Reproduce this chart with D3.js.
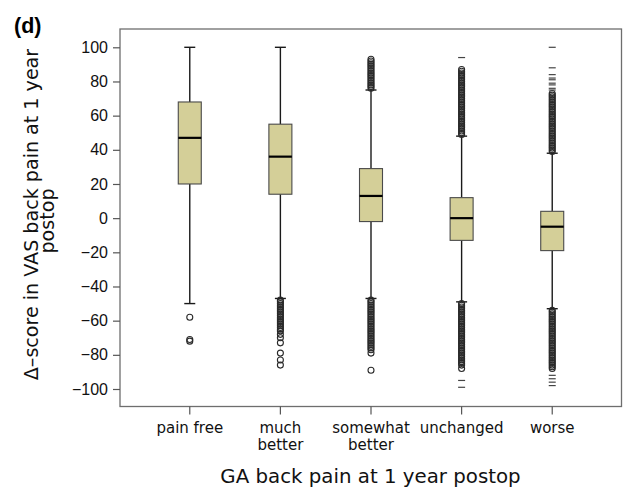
<!DOCTYPE html>
<html>
<head>
<meta charset="utf-8">
<script src="https://cdn.jsdelivr.net/npm/d3@7"></script>
<style>
  html, body { margin: 0; padding: 0; background: #fff; }
  svg { display: block; }
</style>
</head>
<body>
<div id="chart"></div>
<script>
// Box plot: change in VAS back pain by global assessment at 1 year

const categories = ["pain free", "much better", "somewhat better", "unchanged", "worse"];
const categoryLines = [["pain free"], ["much", "better"], ["somewhat", "better"], ["unchanged"], ["worse"]];
const q1Values = [20, 14, -2, -13, -19];
const medianValues = [47, 36, 13, 0, -5];
const q3Values = [68, 55, 29, 12, 4];
const whiskerLow = [-50, -47, -47, -49, -53];
const whiskerHigh = [100, 100, 75, 48, 38];
const yTicks = [-100, -80, -60, -40, -20, 0, 20, 40, 60, 80, 100];

// outliers (circles), one list per category
const outlierValues = [
  [-58, -71, -72],
  [-48, -49, -50, -51, -52, -53, -54, -55, -56, -57, -58, -59, -60, -61, -62, -63, -64, -65, -66,
   -68, -70, -73, -79, -83, -86],
  [76, 77, 78, 79, 80, 81, 82, 83, 84, 85, 86, 87, 88, 89, 90, 91, 92, 93,
   -48, -49, -50, -51, -52, -53, -54, -55, -56, -57, -58, -59, -60, -61, -62, -63, -64, -65, -66,
   -67, -68, -69, -70, -71, -72, -73, -74, -75, -76, -77, -79, -89],
  [49, 50, 51, 52, 53, 54, 55, 56, 57, 58, 59, 60, 61, 62, 63, 64, 65, 66, 67, 68, 69, 70,
   71, 72, 73, 74, 75, 76, 77, 78, 79, 80, 81, 82, 83, 84, 85, 86, 87,
   -50, -51, -52, -53, -54, -55, -56, -57, -58, -59, -60, -61, -62, -63, -64, -65, -66, -67, -68,
   -69, -70, -71, -72, -73, -74, -75, -76, -77, -78, -79, -80, -81, -82, -83, -84, -85, -86, -88],
  [39, 40, 41, 42, 43, 44, 45, 46, 47, 48, 49, 50, 51, 52, 53, 54, 55, 56, 57, 58, 59, 60,
   61, 62, 63, 64, 65, 66, 67, 68, 69, 70, 71, 72, 73,
   -54, -55, -56, -57, -58, -59, -60, -61, -62, -63, -64, -65, -66, -67, -68, -69, -70, -71, -72,
   -73, -74, -75, -76, -77, -78, -79, -80, -81, -82, -83, -84, -85, -86, -87, -88]
];

// extreme values (short dashes)
const extremeValues = [
  [],
  [],
  [],
  [94, -95, -99],
  [100, 88, 84, 82, 81, 79, 78, 76, 75, -92, -94, -96, -98]
];

const width = 623;
const height = 497;
const frame = { left: 120, right: 621.5, top: 29, bottom: 406.5 };
const boxWidth = 23;
const capWidth = 11;

const svg = d3.select("#chart").append("svg")
  .attr("width", width).attr("height", height);

const xScale = d3.scalePoint()
  .domain(categories)
  .range([frame.left, frame.right + 0.5])
  .padding(0.77);

const yScale = d3.scaleLinear()
  .domain([-100, 100])
  .range([389, 47.3]);

// Plot frame
svg.append("rect")
  .attr("x", frame.left).attr("y", frame.top)
  .attr("width", frame.right - frame.left)
  .attr("height", frame.bottom - frame.top)
  .attr("fill", "none")
  .attr("stroke", "#6e6e6e")
  .attr("stroke-width", 1.3);

// Y axis
const yAxis = d3.axisLeft(yScale)
  .tickValues(yTicks)
  .tickSize(7)
  .tickPadding(5);

const yAxisGroup = svg.append("g")
  .attr("transform", `translate(${frame.left},0)`)
  .call(yAxis);
yAxisGroup.select(".domain").remove();
yAxisGroup.selectAll(".tick line").attr("stroke", "#555").attr("stroke-width", 1.2);
yAxisGroup.selectAll(".tick text")
  .attr("fill", "#111")
  .style("font-family", "'Liberation Sans', Arial, sans-serif")
  .style("font-size", "16px");

// X axis ticks + wrapped labels
const xAxisGroup = svg.append("g")
  .attr("transform", `translate(0,${frame.bottom})`);

const xTick = xAxisGroup.selectAll(".xtick")
  .data(categories)
  .join("g")
  .attr("class", "xtick")
  .attr("transform", (cat) => `translate(${xScale(cat)},0)`);

xTick.append("line")
  .attr("y1", 0).attr("y2", 8)
  .attr("stroke", "#555").attr("stroke-width", 1.2);

xTick.append("text")
  .attr("text-anchor", "middle")
  .attr("fill", "#111")
  .style("font-family", "'DejaVu Sans', sans-serif")
  .style("font-size", "15px")
  .selectAll("tspan")
  .data((cat, i) => categoryLines[i])
  .join("tspan")
  .attr("x", 0)
  .attr("y", (line, i) => 26 + i * 17)
  .text((line) => line);

// Boxes
const boxData = categories.map((cat, i) => ({
  cat,
  q1: q1Values[i],
  median: medianValues[i],
  q3: q3Values[i],
  low: whiskerLow[i],
  high: whiskerHigh[i],
  outliers: outlierValues[i],
  extremes: extremeValues[i]
}));

const boxGroup = svg.selectAll(".box")
  .data(boxData)
  .join("g")
  .attr("class", "box")
  .attr("transform", (d) => `translate(${xScale(d.cat)},0)`);

// whiskers
boxGroup.append("line")
  .attr("x1", 0).attr("x2", 0)
  .attr("y1", (d) => yScale(d.high)).attr("y2", (d) => yScale(d.q3))
  .attr("stroke", "#1a1a1a").attr("stroke-width", 1.4);
boxGroup.append("line")
  .attr("x1", 0).attr("x2", 0)
  .attr("y1", (d) => yScale(d.q1)).attr("y2", (d) => yScale(d.low))
  .attr("stroke", "#1a1a1a").attr("stroke-width", 1.4);

// caps
boxGroup.selectAll(".cap")
  .data((d) => [d.high, d.low])
  .join("line")
  .attr("class", "cap")
  .attr("x1", -capWidth / 2).attr("x2", capWidth / 2)
  .attr("y1", (v) => yScale(v)).attr("y2", (v) => yScale(v))
  .attr("stroke", "#1a1a1a").attr("stroke-width", 1.4);

// box body
boxGroup.append("rect")
  .attr("x", -boxWidth / 2)
  .attr("width", boxWidth)
  .attr("y", (d) => yScale(d.q3))
  .attr("height", (d) => yScale(d.q1) - yScale(d.q3))
  .attr("fill", "#d4cf98")
  .attr("stroke", "#4a4a4a")
  .attr("stroke-width", 1.1);

// median
boxGroup.append("line")
  .attr("x1", -boxWidth / 2).attr("x2", boxWidth / 2)
  .attr("y1", (d) => yScale(d.median)).attr("y2", (d) => yScale(d.median))
  .attr("stroke", "#000").attr("stroke-width", 2.2);

// outlier circles
boxGroup.selectAll(".outlier")
  .data((d) => d.outliers)
  .join("circle")
  .attr("class", "outlier")
  .attr("cx", 0)
  .attr("cy", (v) => yScale(v))
  .attr("r", 3)
  .attr("fill", "none")
  .attr("stroke", "#2a2a2a")
  .attr("stroke-width", 1.1);

// extreme dashes
boxGroup.selectAll(".extreme")
  .data((d) => d.extremes)
  .join("line")
  .attr("class", "extreme")
  .attr("x1", -3.5).attr("x2", 3.5)
  .attr("y1", (v) => yScale(v)).attr("y2", (v) => yScale(v))
  .attr("stroke", "#444")
  .attr("stroke-width", 1.2);

// Axis titles
svg.append("text")
  .attr("x", 370.5).attr("y", 483)
  .attr("text-anchor", "middle")
  .attr("fill", "#111")
  .style("font-family", "'DejaVu Sans', sans-serif")
  .style("font-size", "19.8px")
  .text("GA back pain at 1 year postop");

const yTitle = svg.append("text")
  .attr("transform", "rotate(-90)")
  .attr("text-anchor", "middle")
  .attr("fill", "#111")
  .style("font-family", "'DejaVu Sans', sans-serif")
  .style("font-size", "19.1px");
yTitle.append("tspan").attr("x", -214.5).attr("y", 38).text("\u0394\u2013score in VAS back pain at 1 year");
yTitle.append("tspan").attr("x", -221).attr("y", 54).text("postop");

// Panel label
svg.append("text")
  .attr("x", 14).attr("y", 32.5)
  .attr("fill", "#000")
  .style("font-family", "'Liberation Sans', Arial, sans-serif")
  .style("font-weight", "bold")
  .style("font-size", "21.5px")
  .text("(d)");
</script>
</body>
</html>
